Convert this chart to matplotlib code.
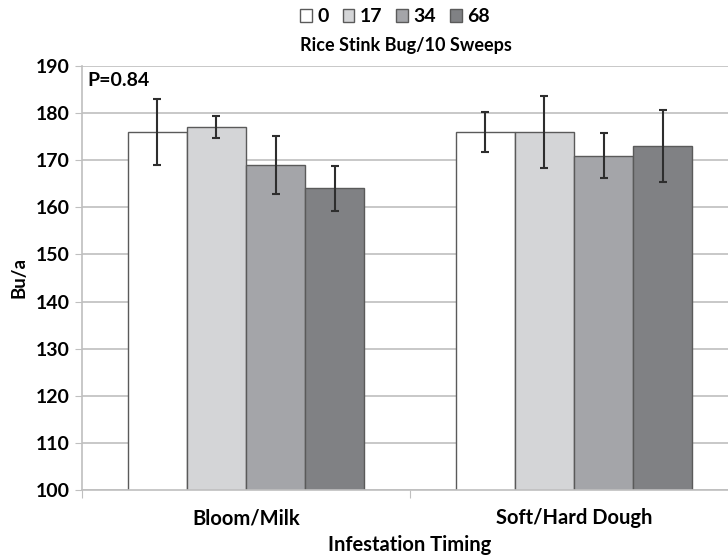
import matplotlib.pyplot as plt
import numpy as np

plt.rcParams['font.family'] = ['Lato', 'DejaVu Sans']
plt.rcParams['font.weight'] = 'bold'

timings = ["Bloom/Milk", "Soft/Hard Dough"]
densities = ["0", "17", "34", "68"]
yields = [
    [176, 176],   # 0
    [177, 176],   # 17
    [169, 171],   # 34
    [164, 173],   # 68
]
errors = [
    [7.1, 4.2],
    [2.3, 7.6],
    [6.1, 4.7],
    [4.8, 7.6],
]
colors = ["#ffffff", "#d4d5d7", "#a4a5a9", "#808184"]

fig = plt.figure(figsize=(7.28, 5.56), dpi=100)
ax = fig.add_axes([82 / 728, 1 - 490 / 556, 656 / 728, 424 / 556])

x = np.arange(len(timings))
width = 0.18
for i, (vals, errs) in enumerate(zip(yields, errors)):
    pos = x + (i - 1.5) * width
    ax.bar(pos, vals, width, bottom=0, color=colors[i], edgecolor="#5a5a5a",
           linewidth=1.0, label=densities[i], zorder=2)
    ax.errorbar(pos, vals, yerr=errs, fmt="none", ecolor="#2e2e2e",
                elinewidth=1.5, capsize=3, capthick=1.5, zorder=3)

ax.set_ylim(100, 190)
ax.set_xlim(-0.5, 1.5)
ax.set_yticks(np.arange(100, 191, 10))
ax.yaxis.grid(True, color="#bfbfbf", linewidth=1.2, zorder=0)
ax.set_axisbelow(True)

# category labels sit between boundary ticks
ax.set_xticks([-0.5, 0.5, 1.5])
ax.set_xticklabels([])
ax.set_xticks(x, minor=True)
ax.set_xticklabels(timings, minor=True, fontsize=14.5, fontweight="bold")
ax.tick_params(axis="x", which="minor", length=0, pad=13)
ax.tick_params(axis="x", which="major", length=6, color="#bfbfbf")
ax.tick_params(axis="y", length=5, color="#bfbfbf", labelsize=14, pad=4)

for side in ("top", "right"):
    ax.spines[side].set_visible(False)
for side in ("left", "bottom"):
    ax.spines[side].set_color("#bfbfbf")
    ax.spines[side].set_linewidth(1.2)

ax.set_ylabel("Bu/a", fontsize=13.5, fontweight="bold", labelpad=6)
fig.text(410 / 728, 1 - 545 / 556, "Infestation Timing", ha="center",
         va="center", fontsize=14.5, fontweight="bold")

ax.text(0.008, 0.985, "P=0.84", transform=ax.transAxes, ha="left", va="top",
        fontsize=14, fontweight="bold")

fig.text(406 / 728, 1 - 46 / 556, "Rice Stink Bug/10 Sweeps", ha="center",
         va="center", fontsize=13, fontweight="bold")
leg = fig.legend(loc="center", bbox_to_anchor=(395 / 728, 1 - 17 / 556), ncol=4,
                 frameon=False, fontsize=14, handlelength=0.6, handleheight=0.6,
                 handletextpad=0.3, columnspacing=0.7)

fig.savefig("out.png", dpi=100)
